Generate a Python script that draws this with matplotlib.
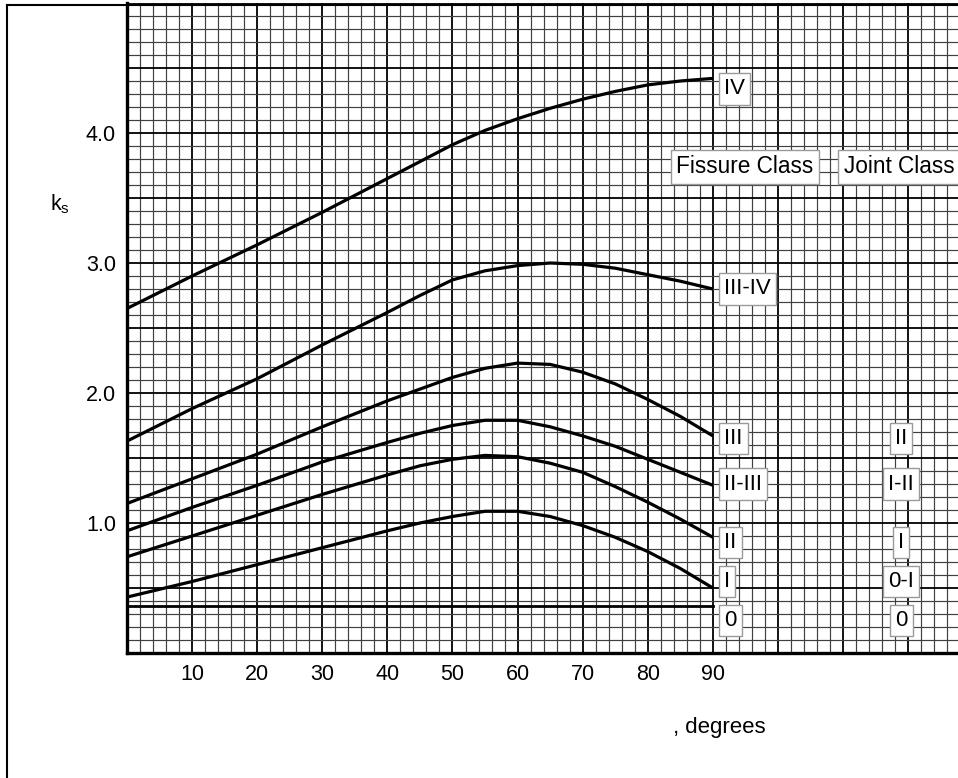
import matplotlib
matplotlib.use("Agg")
import matplotlib.pyplot as plt
from matplotlib.ticker import MultipleLocator, FuncFormatter
from matplotlib.lines import Line2D

plt.rcParams['font.family'] = ['Liberation Sans', 'DejaVu Sans']
plt.rcParams['mathtext.default'] = 'regular'

# ---- data ----
angle = [0, 10, 20, 30, 40, 45, 50, 55, 60, 65, 70, 75, 80, 85, 90]
ks_IV    = [2.65, 2.90, 3.14, 3.39, 3.65, 3.78, 3.91, 4.02, 4.11, 4.19, 4.26, 4.32, 4.37, 4.40, 4.42]
ks_IIIIV = [1.63, 1.88, 2.11, 2.37, 2.62, 2.75, 2.87, 2.94, 2.98, 3.00, 2.99, 2.96, 2.91, 2.86, 2.80]
ks_III   = [1.15, 1.34, 1.53, 1.74, 1.94, 2.03, 2.12, 2.19, 2.23, 2.22, 2.16, 2.07, 1.95, 1.82, 1.67]
ks_IIIII = [0.94, 1.12, 1.29, 1.47, 1.62, 1.69, 1.75, 1.79, 1.79, 1.74, 1.67, 1.59, 1.49, 1.39, 1.29]
ks_II    = [0.74, 0.90, 1.06, 1.22, 1.37, 1.44, 1.49, 1.52, 1.51, 1.46, 1.39, 1.28, 1.16, 1.03, 0.89]
ks_I     = [0.43, 0.55, 0.68, 0.81, 0.94, 1.00, 1.05, 1.09, 1.09, 1.05, 0.98, 0.89, 0.78, 0.65, 0.50]
zero_x   = [0, 90]
ks_0     = [0.36, 0.36]

curves = [ks_IV, ks_IIIIV, ks_III, ks_IIIII, ks_II, ks_I]

fissure_labels = ['IV', 'III-IV', 'III', 'II-III', 'II', 'I', '0']
fissure_label_y = [4.34, 2.80, 1.65, 1.30, 0.85, 0.55, 0.25]
joint_labels = ['II', 'I-II', 'I', '0-I', '0']
joint_label_y = [1.65, 1.30, 0.85, 0.55, 0.25]
header_labels = ['Fissure Class', 'Joint Class']
header_x = [94.9, 118.6]
header_y = 3.74
fissure_label_x = 91.7
joint_label_x = 118.9

xtick_vals = [10, 20, 30, 40, 50, 60, 70, 80, 90]
ytick_vals = [1.0, 2.0, 3.0, 4.0]

W, H = 958, 778
fig = plt.figure(figsize=(W / 100, H / 100), dpi=100)
ax = fig.add_axes([127 / W, 1 - 653 / H, 1 - 127 / W, 650 / H])
ax.set_xlim(0, (W - 127) / 6.51)
ax.set_ylim(0, 5.0)

# grid
ax.xaxis.set_major_locator(MultipleLocator(10))
ax.xaxis.set_minor_locator(MultipleLocator(2))
ax.yaxis.set_major_locator(MultipleLocator(0.5))
ax.yaxis.set_minor_locator(MultipleLocator(0.1))
ax.grid(which='minor', color='#404040', linewidth=0.85)
ax.grid(which='major', color='black', linewidth=1.3)
ax.set_axisbelow(True)

ax.xaxis.set_major_formatter(FuncFormatter(lambda v, p: f"{int(round(v))}" if int(round(v)) in xtick_vals else ""))
ax.yaxis.set_major_formatter(FuncFormatter(lambda v, p: f"{v:.1f}" if any(abs(v - t) < 1e-6 for t in ytick_vals) else ""))
ax.tick_params(which='both', length=0)
ax.tick_params(axis='x', pad=8, labelsize=15.5)
ax.tick_params(axis='y', pad=8, labelsize=15.5)

for s in ['top', 'right']:
    ax.spines[s].set_visible(False)
for s in ['left', 'bottom']:
    ax.spines[s].set_linewidth(2.4)
    ax.spines[s].set_color('black')

for c in curves:
    ax.plot(angle, c, color='black', linewidth=2.3, zorder=3, solid_capstyle='butt')
ax.plot(zero_x, ks_0, color='black', linewidth=2.0, zorder=3)

box = dict(boxstyle='square,pad=0.24', facecolor='white', edgecolor='#9a9a9a', linewidth=1.0)
for lab, y in zip(fissure_labels, fissure_label_y):
    ax.text(fissure_label_x, y, lab, ha='left', va='center', fontsize=16, bbox=box, zorder=4)
for lab, y in zip(joint_labels, joint_label_y):
    ax.text(joint_label_x, y, lab, ha='center', va='center', fontsize=16, bbox=box, zorder=4)
for lab, x in zip(header_labels, header_x):
    ax.text(x, header_y, lab, ha='center', va='center', fontsize=16.3, bbox=box, zorder=4)

fig.text(60 / W, 1 - 204 / H, r'$\mathregular{k_s}$', ha='center', va='center', fontsize=15.5)
fig.text(673 / W, 1 - 728 / H, ', degrees', ha='left', va='center', fontsize=16)

# outer frame (left and top edges)
fig.add_artist(Line2D([7 / W, 7 / W], [0, 1 - 5 / H], transform=fig.transFigure, color='black', linewidth=1.5))
fig.add_artist(Line2D([7 / W, 1], [1 - 5 / H, 1 - 5 / H], transform=fig.transFigure, color='black', linewidth=1.5))

fig.savefig('out.png', dpi=100)
